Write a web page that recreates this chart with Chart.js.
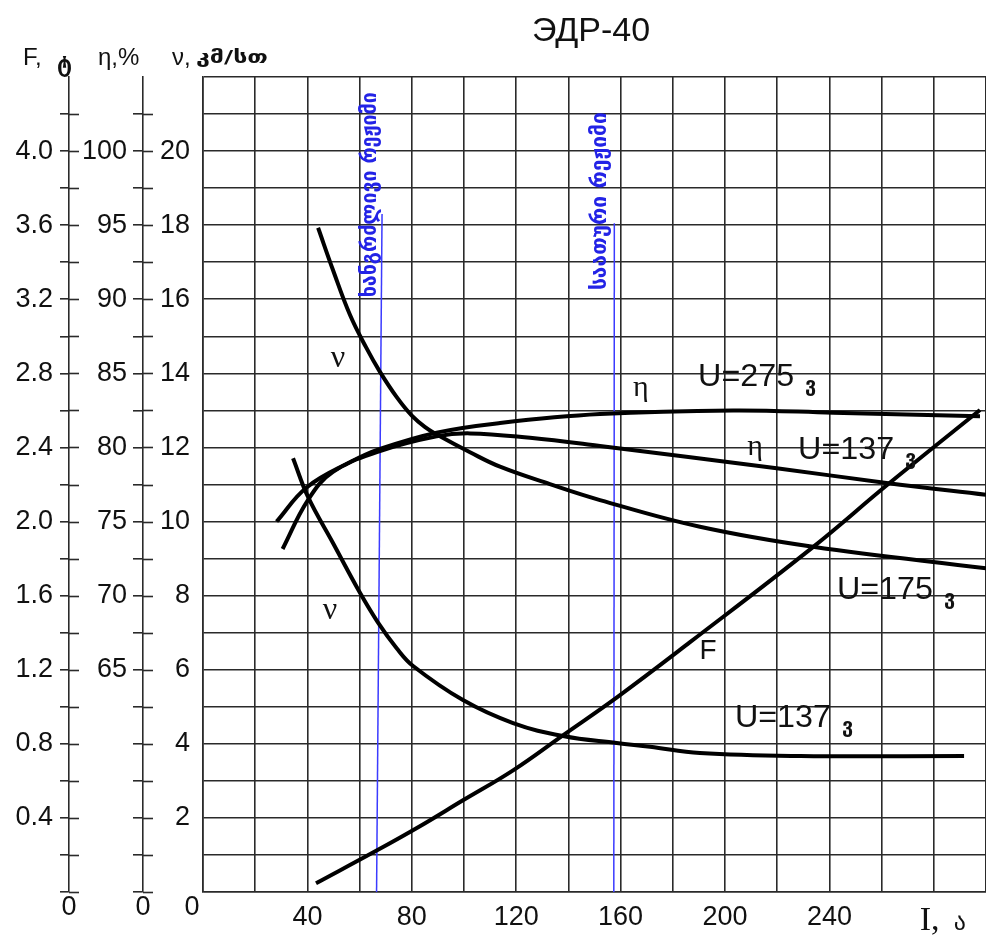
<!DOCTYPE html>
<html>
<head>
<meta charset="utf-8">
<script src="https://cdn.jsdelivr.net/npm/chart.js@4"></script>
<style>
  html, body { margin: 0; padding: 0; background: #fff; }
  canvas { display: block; }
</style>
</head>
<body>
<canvas id="chart" width="986" height="943"></canvas>
<script>
// ЭДР-40 : speed ν, efficiency η and force F against current I

// ν (კმ/სთ) at U=175 ვ
const nu175I = [44.1, 49.8, 56.3, 62.5, 67.8, 74.3, 80.1, 85.1, 90.8, 102.3, 113.8, 132.9, 152.1, 190.4, 233.7, 300]
const nu175V = [17.93, 16.79, 15.58, 14.70, 14.04, 13.35, 12.85, 12.55, 12.30, 11.87, 11.48, 11.01, 10.58, 9.86, 9.32, 8.74]

// ν (კმ/სთ) at U=137 ვ
const nu137I = [34.5, 40.2, 49.8, 60.2, 67.0, 74.2, 80.5, 99.6, 118.8, 137.9, 158.5, 171.3, 190.4, 228.9, 291.6]
const nu137V = [11.71, 10.67, 9.42, 8.07, 7.28, 6.58, 6.10, 5.18, 4.56, 4.21, 4.02, 3.92, 3.75, 3.67, 3.67]

// η (%) at U=275 ვ
const eta275I = [28.2, 39.7, 56.3, 67.8, 89.5, 113.8, 152.1, 203.1, 241.4, 297.7]
const eta275V = [75.0, 77.3, 79.0, 79.9, 81.0, 81.65, 82.25, 82.5, 82.35, 82.1]

// η (%) at U=137 ვ
const eta137I = [30.5, 40.2, 49.8, 67.8, 89.5, 102.3, 125.3, 152.1, 219.8, 261.9, 300]
const eta137V = [73.15, 76.45, 78.35, 79.75, 80.75, 80.95, 80.65, 80.1, 78.6, 77.6, 76.8]

// F (ტ)
const fI = [43.3, 66.7, 83.1, 99.6, 118.8, 137.9, 158.6, 186.6, 233.7, 262.1, 297.7]
const fV = [0.047, 0.225, 0.355, 0.495, 0.657, 0.846, 1.051, 1.349, 1.862, 2.197, 2.602]

// mode markers (blue lines)
const longModeI = [68.6, 66.5]
const longModeNu = [18.3, 0]
const hourModeI = [157.6, 157.4]
const hourModeNu = [18.05, 0]

const SANS = '"Liberation Sans", "DejaVu Sans", sans-serif'
const SERIF = '"Liberation Serif", "DejaVu Serif", serif'
const GEO = '"DejaVu Sans", sans-serif'
const GRID = '#2a2a2a'
const BLUE = '#2323e6'

// curve captions, placed in data units (I, ν)
const captions = [
  { text: 'ν', i: 51.7, nu: 14.4, font: '32px ' + SERIF },
  { text: 'ν', i: 48.7, nu: 7.6, font: '32px ' + SERIF },
  { text: 'η', i: 167.8, nu: 13.6, font: '30px ' + SERIF },
  { text: 'η', i: 211.5, nu: 12.0, font: '30px ' + SERIF },
  { text: 'F', i: 193.5, nu: 6.5, font: '28px ' + SANS },
]
const voltLabels = [
  { text: 'U=275', i: 189.7, nu: 13.9 },
  { text: 'U=137', i: 228.0, nu: 11.93 },
  { text: 'U=175', i: 242.9, nu: 8.15 },
  { text: 'U=137', i: 203.8, nu: 4.69 },
]
const modeTexts = [
  { text: 'ხანგრძლივი რეჟიმი', i: 68.6, dx: -12, nu: 18.82, len: 205 },
  { text: 'საათური რეჟიმი', i: 157.6, dx: -14, nu: 18.65, len: 178 },
]

const toPoints = (xs, ys) => xs.map((v, k) => ({ x: v, y: ys[k] }))

const curve = (data, axis) => ({
  data: data,
  yAxisID: axis,
  borderColor: '#000',
  borderWidth: 4,
  pointRadius: 0,
  tension: 0.4,
  borderJoinStyle: 'round',
})

const blueLine = (data) => ({
  data: data,
  yAxisID: 'y',
  borderColor: '#3b3bff',
  borderWidth: 1.5,
  pointRadius: 0,
  tension: 0,
})

// draw text squeezed/stretched to a given width
const fitText = (ctx, text, x, y, width) => {
  const w = ctx.measureText(text).width
  ctx.save()
  ctx.translate(x, y)
  ctx.scale(width / w, 1)
  ctx.fillText(text, 0, 0)
  ctx.restore()
}

const decor = {
  id: 'decor',
  afterDraw(chart) {
    const ctx = chart.ctx
    const xs = chart.scales.x
    const ys = chart.scales.y
    ctx.save()

    // ticks of F and η axes cross the axis line
    ctx.strokeStyle = GRID
    ctx.lineWidth = 1.6
    for (const id of ['yF', 'yEta']) {
      const s = chart.scales[id]
      s.ticks.forEach((t, k) => {
        if (k === s.ticks.length - 1) return
        const py = Math.round(s.getPixelForValue(t.value)) + 0.5
        ctx.beginPath()
        ctx.moveTo(s.right, py)
        ctx.lineTo(s.right + 10, py)
        ctx.stroke()
      })
    }

    ctx.fillStyle = '#111'
    ctx.textBaseline = 'middle'
    ctx.textAlign = 'center'
    ctx.font = '27px ' + SANS
    const zeroY = chart.chartArea.bottom + 16
    ctx.fillText('0', chart.scales.yF.right, zeroY)
    ctx.fillText('0', chart.scales.yEta.right, zeroY)
    ctx.fillText('0', chart.chartArea.left - 11, zeroY)

    // title
    ctx.font = '34px ' + SANS
    ctx.fillText('ЭДР-40', 591, 32)

    // axis headers
    ctx.textAlign = 'left'
    ctx.textBaseline = 'alphabetic'
    ctx.font = '24px ' + SANS
    ctx.fillText('F,', 23, 65)
    ctx.fillText('η,%', 98, 65)
    ctx.fillText('ν,', 172, 65)
    ctx.font = 'bold 24px ' + GEO
    fitText(ctx, 'ტ', 57, 72, 15)
    ctx.font = 'bold 18px ' + GEO
    fitText(ctx, 'კმ/სთ', 196, 63, 72)

    // I axis name
    ctx.font = '34px ' + SERIF
    const ix = xs.getPixelForValue(280) - 14
    ctx.fillText('I,', ix, 930)
    ctx.font = '24px ' + GEO
    ctx.fillText('ა', ix + 34, 930)

    // curve captions
    ctx.textAlign = 'center'
    ctx.textBaseline = 'middle'
    for (const c of captions) {
      ctx.font = c.font
      ctx.fillText(c.text, xs.getPixelForValue(c.i), ys.getPixelForValue(c.nu))
    }
    ctx.textAlign = 'left'
    for (const v of voltLabels) {
      const px = xs.getPixelForValue(v.i)
      const py = ys.getPixelForValue(v.nu)
      ctx.font = '31px ' + SANS
      fitText(ctx, v.text, px, py, 96)
      ctx.font = 'bold 20px ' + GEO
      ctx.fillText('ვ', px + 107, py + 9)
    }

    // vertical blue captions
    ctx.fillStyle = BLUE
    ctx.font = 'bold 22px ' + GEO
    for (const m of modeTexts) {
      const px = xs.getPixelForValue(m.i) + m.dx
      const py = ys.getPixelForValue(m.nu)
      const w = ctx.measureText(m.text).width
      ctx.save()
      ctx.translate(px, py)
      ctx.rotate(-Math.PI / 2)
      ctx.scale(m.len / w, 1)
      ctx.textAlign = 'center'
      ctx.fillText(m.text, 0, 0)
      ctx.restore()
    }
    ctx.restore()
  },
}

const tickFont = { family: SANS, size: 27 }

new Chart(document.getElementById('chart'), {
  type: 'line',
  data: {
    datasets: [
      curve(toPoints(nu175I, nu175V), 'y'),
      curve(toPoints(nu137I, nu137V), 'y'),
      curve(toPoints(eta275I, eta275V), 'yEta'),
      curve(toPoints(eta137I, eta137V), 'yEta'),
      curve(toPoints(fI, fV), 'yF'),
      blueLine(toPoints(longModeI, longModeNu)),
      blueLine(toPoints(hourModeI, hourModeNu)),
    ],
  },
  options: {
    responsive: false,
    animation: false,
    devicePixelRatio: 1,
    layout: { padding: { top: 77, left: 0, right: 0, bottom: 0 } },
    plugins: { legend: { display: false }, tooltip: { enabled: false } },
    scales: {
      x: {
        type: 'linear',
        position: 'bottom',
        min: 0,
        max: 300,
        afterFit: (s) => {
          s.height = 51
          s.paddingLeft = 0
          s.paddingRight = 0
        },
        grid: { color: GRID, lineWidth: 1.6, drawTicks: false },
        border: { display: true, color: GRID, width: 1.6 },
        ticks: {
          stepSize: 20,
          autoSkip: false,
          maxRotation: 0,
          padding: 9,
          color: '#111',
          font: { family: SANS, size: 27 },
          callback: (v) => (v % 40 === 0 && v > 0 && v < 280 ? String(v) : ''),
        },
      },
      y: {
        type: 'linear',
        position: 'left',
        weight: 0,
        min: 0,
        max: 22,
        afterFit: (s) => { s.width = 60 },
        grid: { color: GRID, lineWidth: 1.6, drawTicks: false },
        border: { display: true, color: GRID, width: 1.6 },
        ticks: {
          stepSize: 1,
          autoSkip: false,
          padding: 13,
          color: '#111',
          font: tickFont,
          callback: (v) => (v % 2 === 0 && v > 0 && v <= 20 ? String(v) : ''),
        },
      },
      yEta: {
        type: 'linear',
        position: 'left',
        weight: 1,
        min: 50,
        max: 105,
        afterFit: (s) => { s.width = 74 },
        grid: {
          drawOnChartArea: false,
          lineWidth: 1.6,
          tickLength: 10,
          color: (c) => (c.tick && c.tick.value >= 105 ? 'rgba(0,0,0,0)' : GRID),
        },
        border: { display: true, color: GRID, width: 1.6 },
        ticks: {
          stepSize: 2.5,
          autoSkip: false,
          padding: 6,
          color: '#111',
          font: tickFont,
          callback: (v) => (v >= 65 && v <= 100 && v % 5 === 0 ? String(v) : ''),
        },
      },
      yF: {
        type: 'linear',
        position: 'left',
        weight: 2,
        min: 0,
        max: 4.4,
        afterFit: (s) => { s.width = 69 },
        grid: {
          drawOnChartArea: false,
          lineWidth: 1.6,
          tickLength: 9,
          color: (c) => (c.tick && c.tick.value >= 4.39 ? 'rgba(0,0,0,0)' : GRID),
        },
        border: { display: true, color: GRID, width: 1.6 },
        ticks: {
          stepSize: 0.2,
          autoSkip: false,
          padding: 7,
          color: '#111',
          font: tickFont,
          callback: (v) => {
            const k = Math.round(v * 10)
            return k % 4 === 0 && k > 0 && k <= 40 ? (k / 10).toFixed(1) : ''
          },
        },
      },
    },
  },
  plugins: [decor],
})
</script>
</body>
</html>
